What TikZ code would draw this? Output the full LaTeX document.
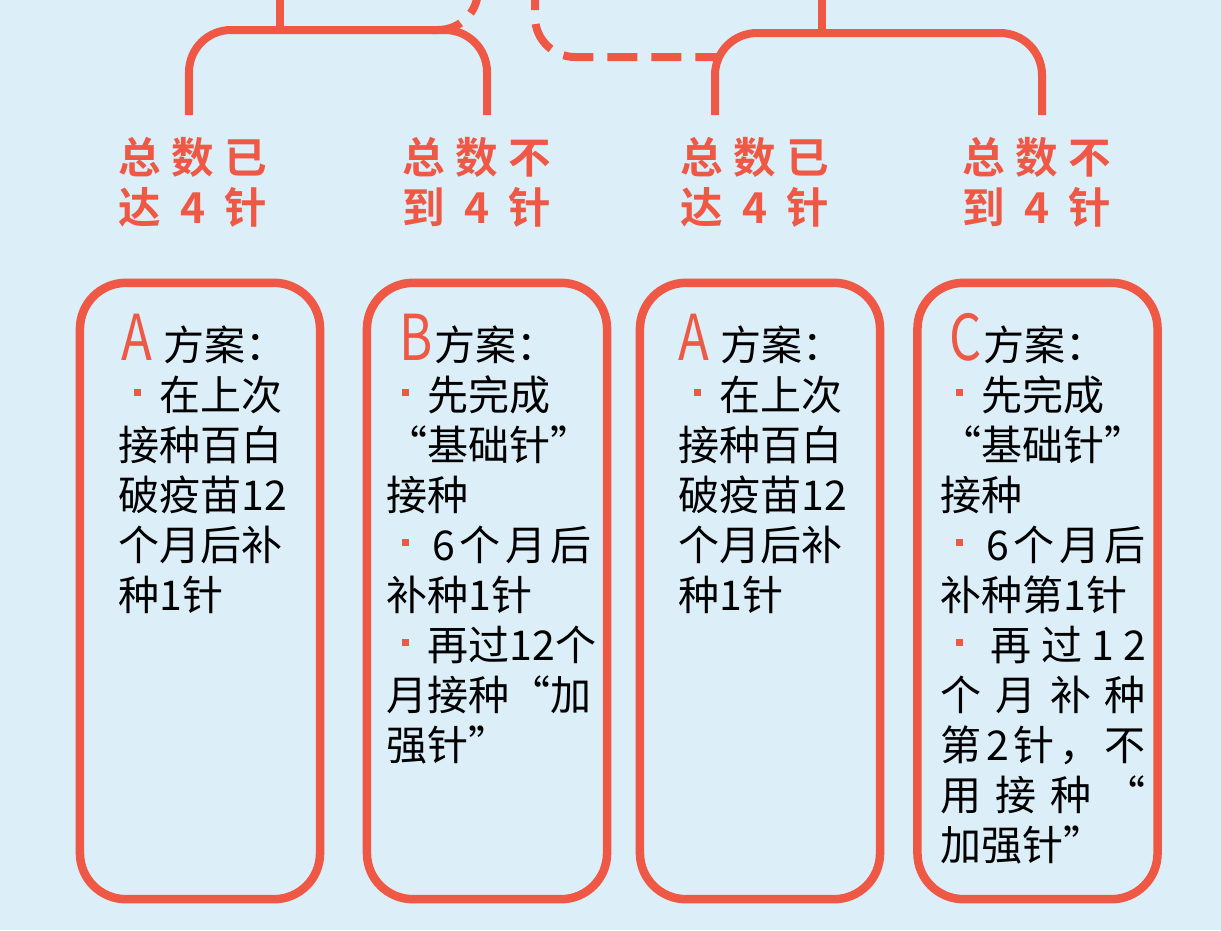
\documentclass[tikz,border=0pt]{standalone}
\usepackage{fontspec,graphicx}
\newfontfamily\cjk{Noto Sans CJK SC}[BoldFont={Noto Sans CJK SC Bold}]
\definecolor{linered}{HTML}{EF5844}
\definecolor{bgblue}{HTML}{DCEFF8}
\newcommand\bodyfont{\cjk\fontsize{11.67pt}{14.23pt}\selectfont}
\newcommand\ttlfont{\cjk\bfseries\fontsize{12.1pt}{14.23pt}\selectfont}
\newcommand\tcell[1]{\makebox[1em]{#1}}
\newcommand\ttl[3]{\tcell{#1}\hspace{3pt}\tcell{#2}\hspace{3pt}\tcell{#3}}
\newcommand\bul{\makebox[1em][l]{\hspace{0.37em}\textcolor{linered}{\rule[0.335em]{0.17em}{0.17em}}}}
\newcommand\spr[1]{\makebox[5em][s]{#1}}
\newcommand\plan[1]{{\color{linered}\fontsize{18pt}{18pt}\selectfont\scalebox{0.8}[1]{#1}}}

\begin{document}
\begin{tikzpicture}[x=0.01cm,y=-0.01cm,
    link/.style={draw=linered,line width=0.08cm},
    dashlink/.style={link,dash pattern=on 0.3cm off 0.14cm},
    planbox/.style={draw=linered,line width=0.085cm,rounded corners=0.46cm,minimum width=2.4cm,minimum height=6.16cm,inner sep=0},
    casetxt/.style={text=linered,font=\ttlfont,align=center,inner sep=0},
    body/.style={anchor=base west,inner sep=0,font=\bodyfont}]
    \fill[bgblue] (0,0) rectangle (1221,930);
    \useasboundingbox (0,0) rectangle (1221,930);
    \clip (0,0) rectangle (1221,930);
    % 上面两组分支
    \coordinate (topL) at (280,-20);
    \coordinate (barL) at (280,30);
    \coordinate (legA) at (189,115);
    \coordinate (legB) at (487,115);
    \coordinate (topR) at (822,-20);
    \coordinate (barR) at (822,33);
    \coordinate (legC) at (715,115);
    \coordinate (legD) at (1042,115);
    \draw[link] (topL) -- (barL);
    \draw[link,rounded corners=0.42cm] (legA) |- (barL) -| (legB);
    \draw[link] (topR) -- (barR);
    \draw[link,rounded corners=0.42cm] (legC) |- (barR) -| (legD);
    \coordinate (dashA) at (432,30);
    \coordinate (dashAt) at (478,-20);
    \coordinate (dashBt) at (535,-20);
    \coordinate (dashB) at (717,57);
    \draw[dashlink,rounded corners=0.4cm] (dashA) -| (dashAt);
    \draw[dashlink,rounded corners=0.4cm] (dashBt) |- (dashB);
    % 条件
    \node[casetxt] (tA) at (193,182) {\ttl{总}{数}{已}\\\ttl{达}{4}{针}};
    \node[casetxt] (tB) at (477,182) {\ttl{总}{数}{不}\\\ttl{到}{4}{针}};
    \node[casetxt] (tC) at (755,182) {\ttl{总}{数}{已}\\\ttl{达}{4}{针}};
    \node[casetxt] (tD) at (1037,182) {\ttl{总}{数}{不}\\\ttl{到}{4}{针}};
    % 方案框
    \node[planbox] (pA) at (200,591) {};
    \node[planbox] (pB) at (487,591) {};
    \node[planbox] (pC) at (760,591) {};
    \node[planbox] (pD) at (1037.5,591) {};
    \node[body] (hA) at (121,360) {\plan{A}\hspace{3pt}方案：};
    \node[body] (hB) at (399,360) {\plan{B}\hspace{0.5pt}方案：};
    \node[body] (hC) at (678,360) {\plan{A}\hspace{3pt}方案：};
    \node[body] (hD) at (949,360) {\plan{C}\hspace{0.5pt}方案：};
    \node[body] (bA) at (118,410) {\parbox[t]{6em}{\bul 在上次\\接种百白\\破疫苗12\\个月后补\\种1针}};
    \node[body] (bB) at (386,410) {\parbox[t]{6em}{\bul 先完成\\“基础针”\\接种\\
        \spr{\bul\hfill 6\hfill 个\hfill 月\hfill 后}\\补种1针\\\bul 再过12个\\月接种“加\\强针”}};
    \node[body] (bC) at (678,410) {\parbox[t]{6em}{\bul 在上次\\接种百白\\破疫苗12\\个月后补\\种1针}};
    \node[body] (bD) at (940,410) {\parbox[t]{6em}{\bul 先完成\\“基础针”\\接种\\
        \spr{\bul\hfill 6\hfill 个\hfill 月\hfill 后}\\补种第1针\\
        \spr{\bul\hfill 再\hfill 过\hfill 1\hfill 2}\\\spr{个\hfill 月\hfill 补\hfill 种}\\
        \spr{第\hfill 2\hfill 针\hfill ，\hfill 不}\\\spr{用\hfill 接\hfill 种\hfill “}\\加强针”}};
\end{tikzpicture}
\end{document}
